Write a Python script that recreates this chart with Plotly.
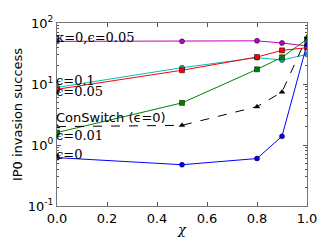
import plotly.graph_objects as go

chi = [0.0, 0.5, 0.8, 0.9, 1.0]
kappa0_eps005 = [50, 50, 51, 47, 42]
eps01 = [8.8, 18.5, 27, 24.7, 30.6]
eps005 = [8.2, 16.8, 27.7, 35.6, 39.4]
eps001 = [1.6, 4.9, 17.4, 27.4, 54]
conswitch = [2.0, 2.1, 4.25, 7.4, 59]
eps0 = [0.62, 0.475, 0.6, 1.39, 45]

series = [
    (kappa0_eps005, "#bf00bf", "circle", "solid"),
    (eps01, "#00bfbf", "circle", "solid"),
    (eps005, "#ff0000", "square", "solid"),
    (eps001, "#008000", "square", "solid"),
    (conswitch, "#000000", "triangle-up", "dash"),
    (eps0, "#0000ff", "circle", "solid"),
]

labels = [
    ("κ=0,ϵ=0.05", 1.76, "DejaVu Serif"),
    ("ϵ=0.1", 1.06, "DejaVu Serif"),
    ("ϵ=0.05", 0.87, "DejaVu Serif"),
    ("ConSwitch (ϵ=0)", 0.45, "DejaVu Sans"),
    ("ϵ=0.01", 0.16, "DejaVu Serif"),
    ("ϵ=0", -0.15, "DejaVu Serif"),
]

fig = go.Figure()
for ys, col, sym, dash in series:
    fig.add_trace(go.Scatter(
        x=chi, y=ys, mode="lines+markers",
        line=dict(color=col, width=1, dash=dash),
        marker=dict(color=col, symbol=sym, size=5, line=dict(width=0.5, color="black")),
        showlegend=False,
    ))

for txt, ly, fam in labels:
    fig.add_annotation(x=0, y=ly, xref="x", yref="y", text=txt, showarrow=False,
                       xanchor="left", yanchor="middle", xshift=-3,
                       font=dict(family=fam, size=13, color="black"))

fig.update_layout(
    width=324, height=241,
    margin=dict(l=49, r=25, t=15, b=43),
    plot_bgcolor="white", paper_bgcolor="white",
    font=dict(family="DejaVu Sans", size=13, color="black"),
)
fig.update_xaxes(range=[0, 1], tickvals=[0, 0.2, 0.4, 0.6, 0.8, 1.0],
                 ticktext=["0.0", "0.2", "0.4", "0.6", "0.8", "1.0"],
                 ticks="inside", ticklen=4, tickcolor="#555", showgrid=False, zeroline=False,
                 showline=True, linecolor="#777", linewidth=1, mirror="ticks",
                 automargin=False, tickfont=dict(size=13),
                 title=dict(text="<i>χ</i>", standoff=0, font=dict(family="DejaVu Serif", size=13)))
fig.update_yaxes(type="log", range=[-1, 2], tickvals=[0.1, 1, 10, 100],
                 ticktext=["10<sup>-1</sup>", "10<sup>0</sup>", "10<sup>1</sup>", "10<sup>2</sup>"],
                 ticks="inside", ticklen=4, tickcolor="#555", showgrid=False, zeroline=False,
                 showline=True, linecolor="#777", linewidth=1, mirror="ticks",
                 automargin=False, tickfont=dict(size=13),
                 minor=dict(ticks="inside", ticklen=2, tickcolor="#555",
                            tickvals=[0.2,0.3,0.4,0.5,0.6,0.7,0.8,0.9,2,3,4,5,6,7,8,9,20,30,40,50,60,70,80,90]),
                 title=dict(text="IP0 invasion success", standoff=2, font=dict(size=13)))

fig.write_html("out.html")
